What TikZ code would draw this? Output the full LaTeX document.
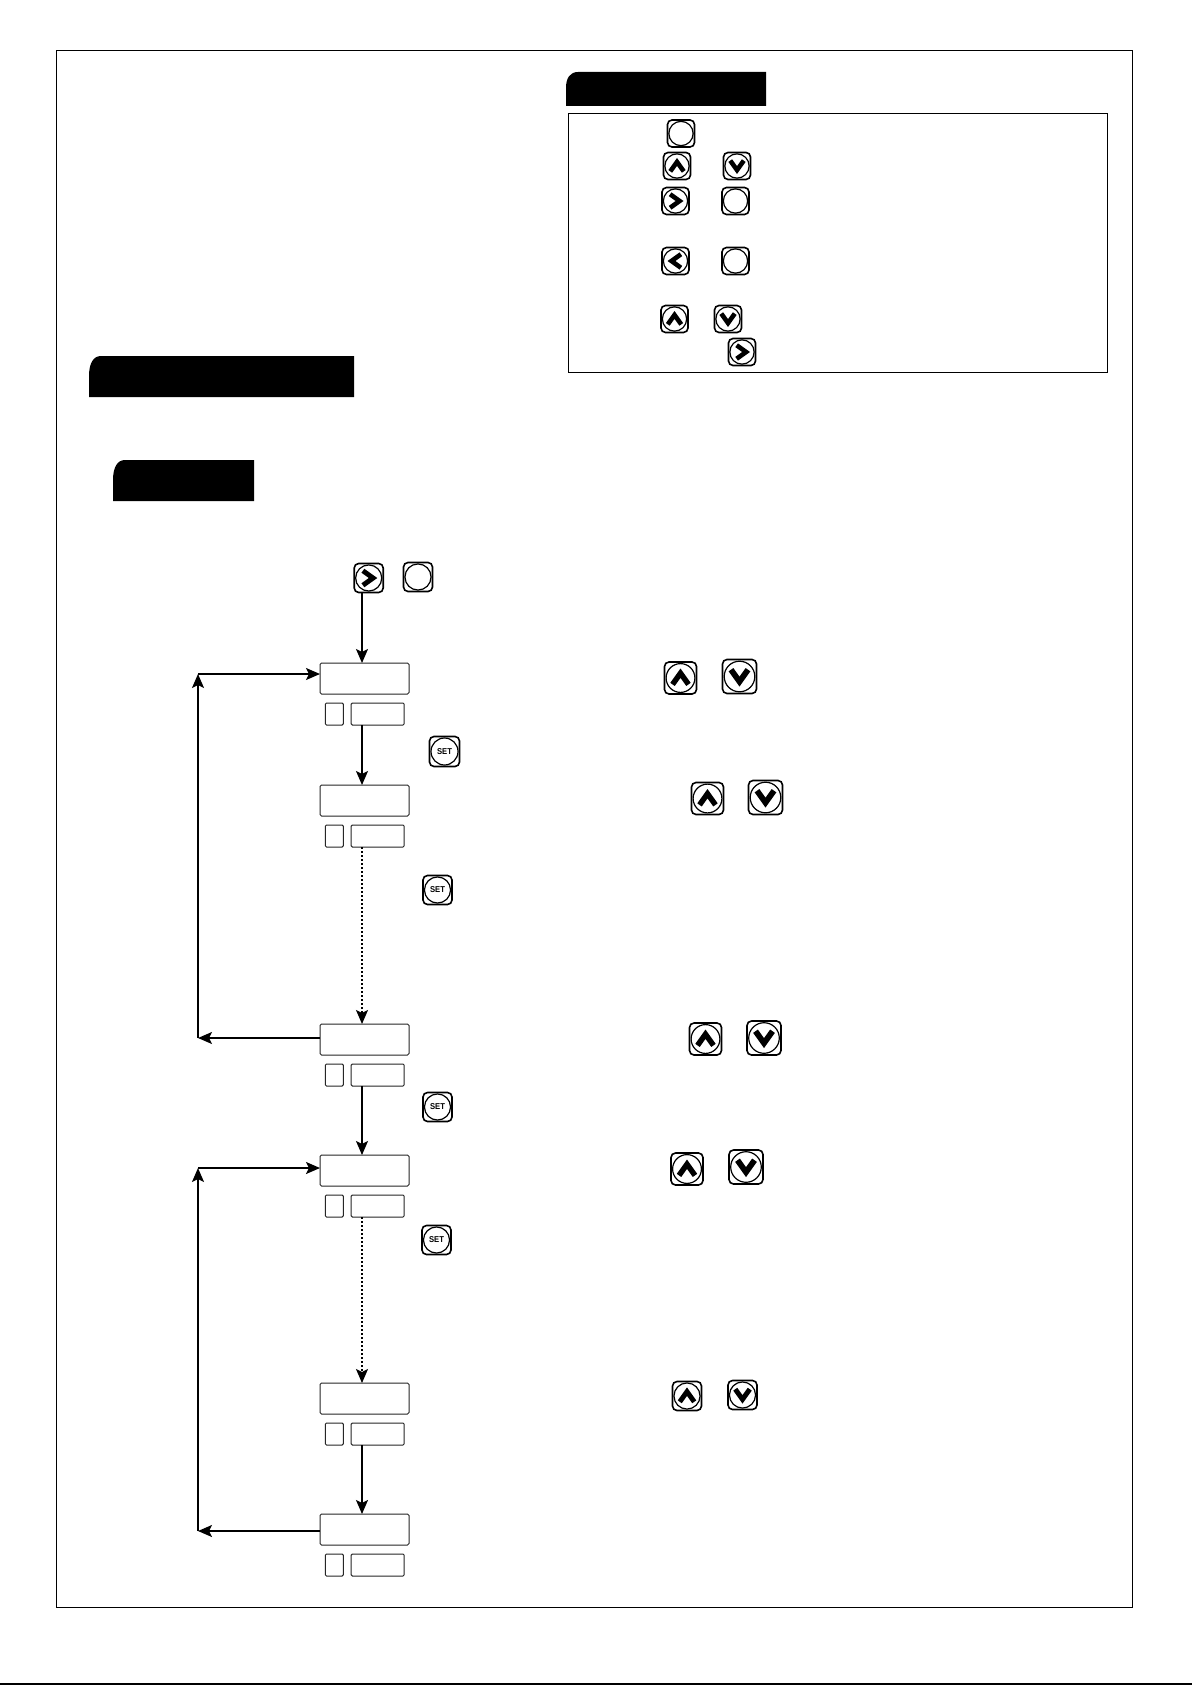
\documentclass[tikz,border=0pt]{standalone}
\usepackage{fontspec}
\setmainfont{Liberation Sans}
\usetikzlibrary{arrows.meta}
\tikzset{
  framebox/.style={draw=black,line width=1pt},
  dispmain/.style={draw=black!85,line width=1pt,rounded corners=1.5pt,inner sep=0pt,outer sep=0pt,minimum width=89pt,minimum height=31pt},
  dispa/.style={draw=black!85,line width=1pt,rounded corners=1.2pt,inner sep=0pt,outer sep=0pt,minimum width=18pt,minimum height=22pt},
  dispb/.style={draw=black!85,line width=1pt,rounded corners=1.2pt,inner sep=0pt,outer sep=0pt,minimum width=53pt,minimum height=22pt},
  keyframe/.style={draw=black,line width=1.6pt,rounded corners=4.5pt,inner sep=0pt,outer sep=0pt,fill=white},
  arr/.style={line width=1.6pt,-{Stealth[length=14pt,width=12pt,inset=3pt]}},
  dotarr/.style={line width=1.5pt,dash pattern=on 2pt off 2pt,-{Stealth[length=14pt,width=12pt,inset=3pt]}},
  settext/.style={font=\bfseries\fontsize{8.5}{8.5}\selectfont,inner sep=0pt}
}
% name, x, y, size
\newcommand{\keycap}[4]{%
  \node[keyframe,minimum size=#4 pt] (#1) at (#2,#3) {};
  \draw[line width=1.2pt] (#1.center) circle[radius=0.45*#4 pt];
}
% name, x, y, size, rotation
\newcommand{\keychev}[5]{%
  \keycap{#1}{#2}{#3}{#4}
  \draw[line width=0.17*#4 pt,miter limit=10,shift={(#1.center)},rotate=#5,x=#4 pt,y=#4 pt]
    (-0.25,-0.2) -- (0,0.15) -- (0.25,-0.2);
}
% name, x, y, size
\newcommand{\keyset}[4]{%
  \keycap{#1}{#2}{#3}{#4}
  \node[settext] at (#1.center) {\scalebox{0.9}[1]{SET}};
}
% prefix, top y
\newcommand{\dispunit}[2]{%
  \node[dispmain] (#1) at (364.5,{#2+15.5}) {};
  \node[dispa] (#1a) at (334.3,{#2+51}) {};
  \node[dispb] (#1b) at (377.7,{#2+51}) {};
}
\begin{document}
\begin{tikzpicture}[x=1pt,y=-1pt]
\useasboundingbox[fill=white] (0,0) rectangle (1192,1685);
% page frame and bottom rule
\draw[framebox] (56.5,50.5) rectangle (1132,1607);
\draw[line width=1.6pt] (0,1684) -- (1192,1684);
% header bars
\fill (89,397) -- (89,376) .. controls (89,364) and (93,356) .. (101,356) -- (354,356) -- (354,397) -- cycle;
\fill (113,501) -- (113,480) .. controls (113,468) and (117,460) .. (125,460) -- (254,460) -- (254,501) -- cycle;
\fill (566,106) -- (566,88) .. controls (566,78) and (570,72) .. (578,72) -- (766,72) -- (766,106) -- cycle;
% key panel
\draw[framebox] (568,113.5) rectangle (1107,372.5);
\keycap{pa}{681}{133.5}{27}
\keychev{pbu}{677}{166}{27}{0}
\keychev{pbd}{737}{166}{27}{180}
\keychev{pcr}{675.5}{201}{27}{-90}
\keycap{pcc}{735.5}{201}{27}
\keychev{pdl}{675.5}{261}{27}{90}
\keycap{pdc}{735.5}{261}{27}
\keychev{peu}{674.5}{319}{27}{0}
\keychev{ped}{728}{319}{27}{180}
\keychev{pfr}{742}{352}{27}{-90}
% start keys
\keychev{kr}{368.7}{578}{29}{-90}
\keycap{kc}{418}{577}{29}
% displays
\dispunit{d1}{663}
\dispunit{d2}{785}
\dispunit{d3}{1024}
\dispunit{d4}{1155}
\dispunit{d5}{1383}
\dispunit{d6}{1514}
% side keys
\keyset{s1}{444.5}{751.5}{30}
\keyset{s2}{437.5}{890}{29}
\keyset{s3}{437.5}{1107}{29}
\keyset{s4}{436.5}{1240}{29}
\keychev{u1}{680.5}{678}{32}{0}
\keychev{v1}{739.5}{676.5}{34}{180}
\keychev{u2}{707.5}{798.5}{32}{0}
\keychev{v2}{765.5}{797.5}{34}{180}
\keychev{u3}{705.5}{1039}{32}{0}
\keychev{v3}{764}{1038}{34}{180}
\keychev{u4}{687}{1169}{32}{0}
\keychev{v4}{746}{1167}{34}{180}
\keychev{u5}{687}{1396}{29}{0}
\keychev{v5}{742.5}{1395}{29}{180}
% connector guides
\coordinate (ax) at (362,0);
\coordinate (fa) at (198,1038);
\coordinate (fat) at (198,674);
\coordinate (fb) at (198,1531);
\coordinate (fbt) at (198,1168);
% connectors
\draw[arr] (kr.south -| ax) -- (d1.north -| ax);
\draw[arr] (d1b.south -| ax) -- (d2.north -| ax);
\draw[dotarr] (d2b.south -| ax) -- (d3.north -| ax);
\draw[arr] (d3b.south -| ax) -- (d4.north -| ax);
\draw[dotarr] (d4b.south -| ax) -- (d5.north -| ax);
\draw[arr] (d5b.south -| ax) -- (d6.north -| ax);
\draw[arr] (d3.west |- fa) -- (fa);
\draw[arr] (fa) -- (fat);
\draw[arr] (fat) -- (d1.west |- fat);
\draw[arr] (d6.west |- fb) -- (fb);
\draw[arr] (fb) -- (fbt);
\draw[arr] (fbt) -- (d4.west |- fbt);
\end{tikzpicture}
\end{document}
